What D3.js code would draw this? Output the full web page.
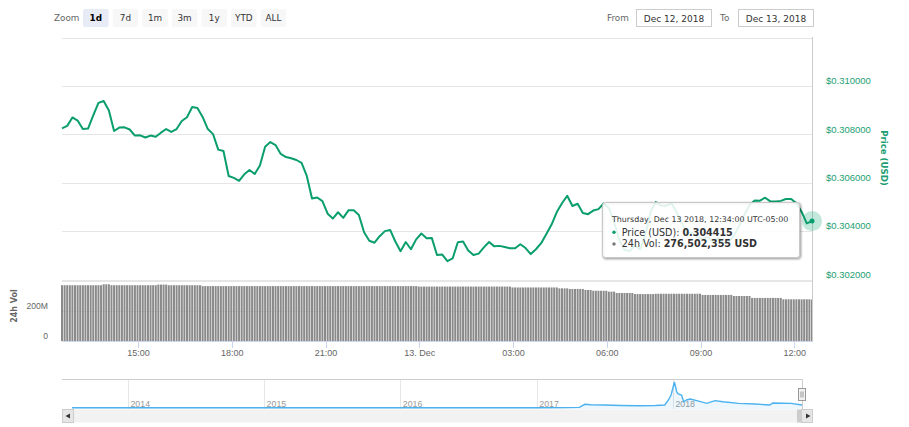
<!DOCTYPE html>
<html lang="en">
<head>
<meta charset="UTF-8">
<title>XRP 1d</title>
<style>
    body { margin: 0; background: #fff; }
    svg { display: block; font-family: "DejaVu Sans", Verdana, sans-serif; }
    .grid line { stroke: #e6e6e6; shape-rendering: crispEdges; }
    .grid path { display: none; }
    .price-axis text { fill: #1c9e72; font-size: 9.5px; }
    .vol-axis text { fill: #666; font-size: 8.6px; }
    .time-axis path, .time-axis line { stroke: #ccd6eb; shape-rendering: crispEdges; }
    .time-axis text { fill: #666; font-size: 9px; }
    .nav-axis line { stroke: #e6e6e6; shape-rendering: crispEdges; }
    .nav-axis path { display: none; }
    .nav-axis text { fill: #999; font-size: 8.8px; }
    .price-line { fill: none; stroke: #0a9e6e; stroke-width: 2; stroke-linejoin: round; }
    .vol-bar { fill: #8a8a8a; }
    .nav-line { fill: none; stroke: #4cb2ee; stroke-width: 1.4; }
    .nav-area { fill: #4cb2ee; fill-opacity: 0.1; }
    .btn rect { fill: #f7f7f7; }
    .btn.on rect { fill: #e6ebf5; }
    .btn text { font-size: 8.8px; fill: #333; text-anchor: middle; }
    .btn.on text { font-weight: bold; fill: #000; }
    .lbl { font-size: 8.8px; fill: #666; }
    .date-box rect { fill: #fff; stroke: #ccc; shape-rendering: crispEdges; }
    .date-box text { font-size: 9px; fill: #333; text-anchor: middle; }
</style>
<script src="https://cdn.jsdelivr.net/npm/d3@7"></script>
</head>
<body>
<div id="chart"></div>
<script>
    // 1d view, Dec 12 12:34 -> Dec 13 12:34 (UTC-05:00)
    const startTime = new Date(2018, 11, 12, 12, 34);
    const endTime = new Date(2018, 11, 13, 12, 34);

    // price (USD), one point every 10 minutes
    const priceStep = 10;
    const prices = [
        0.30825, 0.30835, 0.30870, 0.30857, 0.30822, 0.30824, 0.30878, 0.30930, 0.30938, 0.30899,
        0.30814, 0.30828, 0.30829, 0.30820, 0.30795, 0.30796, 0.30787, 0.30795, 0.30790, 0.30807,
        0.30822, 0.30810, 0.30822, 0.30855, 0.30871, 0.30913, 0.30909, 0.30872, 0.30822, 0.30801,
        0.30737, 0.30731, 0.30628, 0.30620, 0.30608, 0.30635, 0.30653, 0.30636, 0.30671, 0.30749,
        0.30768, 0.30756, 0.30719, 0.30706, 0.30701, 0.30694, 0.30682, 0.30628, 0.30535, 0.30539,
        0.30524, 0.30472, 0.30452, 0.30478, 0.30455, 0.30486, 0.30486, 0.30467, 0.30395, 0.30360,
        0.30352, 0.30379, 0.30400, 0.30405, 0.30357, 0.30317, 0.30355, 0.30325, 0.30366, 0.30390,
        0.30371, 0.30372, 0.30301, 0.30303, 0.30276, 0.30287, 0.30354, 0.30357, 0.30320, 0.30301,
        0.30307, 0.30333, 0.30355, 0.30337, 0.30339, 0.30334, 0.30329, 0.30329, 0.30346, 0.30330,
        0.30305, 0.30325, 0.30350, 0.30388, 0.30427, 0.30479, 0.30515, 0.30546, 0.30504, 0.30513,
        0.30475, 0.30470, 0.30485, 0.30491, 0.30514, 0.30496, 0.30438, 0.30363, 0.30322, 0.30318,
        0.30341, 0.30324, 0.30384, 0.30479, 0.30520, 0.30506, 0.30504, 0.30516, 0.30479, 0.30434,
        0.30392, 0.30392, 0.30376, 0.30367, 0.30376, 0.30355, 0.30372, 0.30347, 0.30357, 0.30380,
        0.30421, 0.30467, 0.30508, 0.30527, 0.30526, 0.30538, 0.30523, 0.30522, 0.30525, 0.30533,
        0.30533, 0.30515, 0.30480, 0.30432, 0.304415
    ];

    // 24h volume (million USD), one bar every 5 minutes
    const volumeStep = 5;
    const volumes = [
        372, 372, 372, 372, 372, 372, 372, 372, 372, 372, 372, 372,
        372, 372, 372, 372, 378, 378, 378, 372, 372, 372, 372, 372,
        372, 372, 372, 372, 372, 372, 372, 372, 372, 372, 372, 372,
        372, 376, 376, 376, 376, 372, 372, 372, 372, 372, 372, 372,
        372, 372, 372, 372, 372, 372, 366, 366, 366, 366, 366, 366,
        366, 366, 366, 366, 366, 366, 366, 366, 366, 366, 366, 366,
        366, 366, 366, 366, 366, 366, 366, 366, 366, 366, 366, 366,
        366, 366, 366, 366, 366, 366, 366, 366, 366, 366, 366, 366,
        366, 366, 366, 366, 366, 366, 366, 366, 366, 366, 366, 366,
        366, 366, 366, 366, 366, 366, 366, 366, 366, 366, 366, 366,
        366, 366, 366, 366, 366, 366, 366, 366, 366, 366, 366, 366,
        366, 366, 366, 366, 366, 363, 363, 363, 363, 363, 363, 363,
        363, 363, 363, 363, 363, 363, 363, 363, 363, 363, 363, 363,
        363, 363, 363, 363, 363, 363, 363, 363, 363, 363, 363, 363,
        363, 363, 363, 363, 363, 357, 357, 357, 357, 357, 357, 357,
        357, 357, 357, 357, 357, 357, 357, 357, 357, 357, 357, 351,
        351, 351, 351, 347, 347, 347, 347, 347, 347, 340, 340, 340,
        335, 335, 335, 335, 335, 335, 329, 329, 329, 320, 320, 320,
        320, 320, 320, 320, 313, 313, 313, 313, 313, 313, 313, 313,
        315, 315, 315, 315, 315, 315, 315, 315, 315, 315, 315, 315,
        315, 315, 315, 315, 315, 315, 307, 307, 307, 307, 307, 307,
        307, 307, 307, 307, 307, 307, 300, 300, 300, 300, 300, 300,
        300, 287, 287, 287, 287, 287, 287, 287, 287, 287, 287, 287,
        287, 278, 278, 278, 278, 278, 278, 278, 278, 278, 278, 278,
        276.502355
    ];

    const priceTicks = [0.302, 0.304, 0.306, 0.308, 0.310, 0.312];
    const volumeTicks = [0, 200, 400];
    const volumeTickLabels = ["0", "200M", ""];
    const timeTicks = [
        new Date(2018, 11, 12, 15), new Date(2018, 11, 12, 18), new Date(2018, 11, 12, 21),
        new Date(2018, 11, 13, 0), new Date(2018, 11, 13, 3), new Date(2018, 11, 13, 6),
        new Date(2018, 11, 13, 9), new Date(2018, 11, 13, 12)
    ];
    const timeTickLabels = ["15:00", "18:00", "21:00", "13. Dec", "03:00", "06:00", "09:00", "12:00"];

    const zoomButtons = ["1d", "7d", "1m", "3m", "1y", "YTD", "ALL"];
    const fromLabel = "Dec 12, 2018";
    const toLabel = "Dec 13, 2018";

    // navigator: whole history
    const navDates = [
        "2013-08-04", "2013-12-01", "2014-06-01", "2015-01-01", "2016-01-01", "2017-01-01",
        "2017-03-20", "2017-04-25", "2017-05-10", "2017-05-25", "2017-07-01", "2017-08-15",
        "2017-10-01", "2017-11-15", "2017-12-10", "2017-12-20", "2017-12-27", "2018-01-05",
        "2018-01-11", "2018-01-15", "2018-01-24", "2018-01-30", "2018-02-06", "2018-02-16",
        "2018-03-06", "2018-04-02", "2018-04-24", "2018-05-15", "2018-06-26", "2018-08-09",
        "2018-09-17", "2018-09-26", "2018-11-14", "2018-12-13"
    ];
    const navPrices = [
        0.04, 0.04, 0.03, 0.04, 0.03, 0.03,
        0.05, 0.08, 0.48, 0.42, 0.40, 0.33,
        0.30, 0.33, 0.39, 1.05, 1.70, 3.40,
        2.13, 1.83, 1.70, 0.82, 1.05, 1.18,
        0.96, 0.61, 0.96, 0.82, 0.61, 0.52,
        0.39, 0.65, 0.61, 0.39
    ];
    const navYears = [2014, 2015, 2016, 2017, 2018];

    function drawChart(id) {
        let svg = d3.select(id).append("svg")
            .attr("width", 909)
            .attr("height", 427);

        let x = d3.scaleTime().domain([startTime, endTime]).range([62, 812]);
        let yPrice = d3.scaleLinear().domain([0.302, 0.312]).range([279.5, 37.6]);
        let yVol = d3.scaleLinear().domain([0, 400]).range([341, 281]);

        // range selector
        let band = d3.scaleBand().domain(zoomButtons).range([83, 286.2]).paddingInner(0.135);
        svg.append("text").attr("class", "lbl").attr("x", 54).attr("y", 21).text("Zoom");
        let btns = svg.selectAll("g.btn")
            .data(zoomButtons)
            .enter()
            .append("g")
            .attr("class", d => d === "1d" ? "btn on" : "btn")
            .attr("transform", d => "translate(" + band(d) + ",9)");
        btns.append("rect")
            .attr("width", band.bandwidth())
            .attr("height", 18)
            .attr("rx", 2);
        btns.append("text")
            .attr("x", band.bandwidth() / 2)
            .attr("y", 12.3)
            .text(d => d);

        svg.append("text").attr("class", "lbl").attr("x", 607).attr("y", 21).text("From");
        svg.append("text").attr("class", "lbl").attr("x", 720).attr("y", 21).text("To");
        let boxes = svg.selectAll("g.date-box")
            .data([[636.5, fromLabel], [738.5, toLabel]])
            .enter()
            .append("g")
            .attr("class", "date-box")
            .attr("transform", d => "translate(" + d[0] + ",9.5)");
        boxes.append("rect").attr("width", 75).attr("height", 17);
        boxes.append("text").attr("x", 37.5).attr("y", 12).text(d => d[1]);

        // price pane grid + labels
        let priceAxis = svg.append("g")
            .attr("class", "grid price-axis")
            .attr("transform", "translate(812,0)")
            .call(d3.axisRight(yPrice)
                .tickValues(priceTicks)
                .tickSize(-750)
                .tickPadding(14)
                .tickFormat(d => d > 0.311 ? "" : "$" + d3.format(".6f")(d)));
        priceAxis.selectAll("text").attr("dy", "0.32em").attr("y", -5.3);

        // volume pane grid + labels
        let volAxis = svg.append("g")
            .attr("class", "grid vol-axis")
            .attr("transform", "translate(62,0)")
            .call(d3.axisLeft(yVol)
                .tickValues(volumeTicks)
                .tickSize(-750)
                .tickPadding(14)
                .tickFormat((d, i) => volumeTickLabels[i]));
        volAxis.selectAll("text").attr("dy", "0.32em").attr("y", -5.5);

        // volume bars
        let volTimes = volumes.map((v, i) => d3.timeMinute.offset(startTime, i * volumeStep));
        svg.append("g")
            .selectAll("rect")
            .data(volumes)
            .enter()
            .append("rect")
            .attr("class", "vol-bar")
            .attr("x", (d, i) => x(volTimes[i]) - 1)
            .attr("width", 2)
            .attr("y", d => yVol(d))
            .attr("height", d => yVol(0) - yVol(d));

        // time axis
        svg.append("g")
            .attr("class", "time-axis")
            .attr("transform", "translate(0,341)")
            .call(d3.axisBottom(x)
                .tickValues(timeTicks)
                .tickSize(7)
                .tickSizeOuter(0)
                .tickPadding(1.2)
                .tickFormat((d, i) => timeTickLabels[i]));

        // crosshair
        svg.append("line")
            .attr("x1", 812.5).attr("x2", 812.5)
            .attr("y1", 37).attr("y2", 341)
            .attr("stroke", "#cccccc");

        // price line
        let priceTimes = prices.map((p, i) => d3.timeMinute.offset(startTime, i * priceStep));
        let line = d3.line()
            .x((d, i) => x(priceTimes[i]))
            .y(d => yPrice(d));
        svg.append("path")
            .datum(prices)
            .attr("class", "price-line")
            .attr("d", line);

        // axis titles
        svg.append("text")
            .attr("transform", "translate(881,158) rotate(90)")
            .attr("text-anchor", "middle")
            .attr("font-size", 8.6)
            .attr("font-weight", "bold")
            .attr("fill", "#1c9e72")
            .text("Price (USD)");
        svg.append("text")
            .attr("transform", "translate(16.5,306) rotate(-90)")
            .attr("text-anchor", "middle")
            .attr("font-size", 8)
            .attr("font-weight", "bold")
            .attr("fill", "#666")
            .text("24h Vol");

        // navigator
        let parse = d3.timeParse("%Y-%m-%d");
        let navT = navDates.map(parse);
        let xNav = d3.scaleTime().domain([navT[0], navT[navT.length - 1]]).range([72, 802]);
        let yNav = d3.scaleLinear().domain([0, 3.4]).range([408, 382]);

        let navAxis = svg.append("g")
            .attr("class", "nav-axis")
            .attr("transform", "translate(0,409)")
            .call(d3.axisBottom(xNav)
                .tickValues(navYears.map(y => new Date(y, 0, 1)))
                .tickSize(-30)
                .tickFormat(d3.timeFormat("%Y")));
        navAxis.selectAll("text")
            .attr("text-anchor", "start")
            .attr("x", 2)
            .attr("y", -2)
            .attr("dy", 0);

        svg.append("path")
            .datum(navPrices)
            .attr("class", "nav-area")
            .attr("d", d3.area()
                .x((d, i) => xNav(navT[i]))
                .y0(409)
                .y1(d => yNav(d)));
        svg.append("path")
            .datum(navPrices)
            .attr("class", "nav-line")
            .attr("d", d3.line()
                .x((d, i) => xNav(navT[i]))
                .y(d => yNav(d)));

        svg.append("path")
            .attr("d", "M62,379.5H802.5V409")
            .attr("fill", "none")
            .attr("stroke", "#cccccc");
        let handle = svg.append("g").attr("transform", "translate(798.5,388.5)");
        handle.append("rect")
            .attr("width", 7).attr("height", 12)
            .attr("fill", "#f2f2f2").attr("stroke", "#999");
        handle.append("path")
            .attr("d", "M2.5,3V9M4.5,3V9")
            .attr("stroke", "#999");

        // scrollbar
        svg.append("rect")
            .attr("x", 62).attr("y", 409.5)
            .attr("width", 751).attr("height", 13)
            .attr("fill", "#f2f2f2");
        svg.append("rect")
            .attr("x", 797).attr("y", 409.5)
            .attr("width", 5).attr("height", 13)
            .attr("fill", "#cccccc");
        [[62.5, "M70,413.5L65.5,416L70,418.5Z"], [801.5, "M806,413.5L810.5,416L806,418.5Z"]].forEach(b => {
            svg.append("rect")
                .attr("x", b[0]).attr("y", 409.5)
                .attr("width", 11).attr("height", 13)
                .attr("fill", "#e6e6e6").attr("stroke", "#cccccc");
            svg.append("path").attr("d", b[1]).attr("fill", "#333");
        });

        // hover marker on last point
        let lastP = prices[prices.length - 1];
        let hx = x(endTime), hy = yPrice(lastP);
        svg.append("circle")
            .attr("cx", hx).attr("cy", hy).attr("r", 10)
            .attr("fill", "#0a9e6e").attr("fill-opacity", 0.25);
        svg.append("circle")
            .attr("cx", hx).attr("cy", hy).attr("r", 2.5)
            .attr("fill", "#0a9e6e");

        // tooltip
        let tip = svg.append("g").attr("transform", "translate(602.5,202.5)");
        [5, 3, 1].forEach((w, i) => {
            tip.append("rect")
                .attr("x", 1).attr("y", 1)
                .attr("width", 197).attr("height", 55).attr("rx", 3)
                .attr("fill", "none")
                .attr("stroke", "#000")
                .attr("stroke-opacity", 0.05 * (i + 1))
                .attr("stroke-width", w);
        });
        tip.append("rect")
            .attr("width", 197).attr("height", 55).attr("rx", 3)
            .attr("fill", "rgba(255,255,255,0.88)")
            .attr("stroke", "#c8c8c8");
        let header = d3.timeFormat("%A, %b %d %Y, %H:%M:%S")(endTime) + " UTC-05:00";
        tip.append("text")
            .attr("x", 9.5).attr("y", 19.5)
            .attr("font-size", 7.9).attr("fill", "#333")
            .text(header);
        let rows = [
            ["#0a9e6e", "Price (USD): ", d3.format(".6f")(lastP)],
            ["#777", "24h Vol: ", d3.format(",")(Math.round(volumes[volumes.length - 1] * 1e6)) + " USD"]
        ];
        rows.forEach((r, i) => {
            tip.append("circle")
                .attr("cx", 11.5).attr("cy", 29.8 + i * 11.7).attr("r", 1.7)
                .attr("fill", r[0]);
            let t = tip.append("text")
                .attr("x", 19.2).attr("y", 33 + i * 11.7)
                .attr("font-size", 9.6).attr("fill", "#333");
            t.append("tspan").text(r[1]);
            t.append("tspan").attr("font-weight", "bold").text(r[2]);
        });
    }

    drawChart("#chart");
</script>
</body>
</html>
